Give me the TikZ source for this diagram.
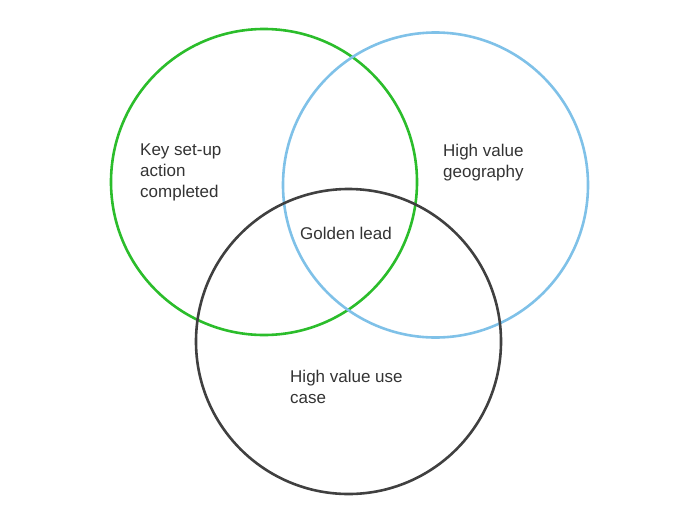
\documentclass[tikz,border=0pt]{standalone}
\usepackage{fontspec}
\setmainfont{Liberation Sans}
\definecolor{cgreen}{HTML}{2BBD2B}
\definecolor{cblue}{HTML}{7FC1E8}
\definecolor{cdark}{HTML}{404040}
\definecolor{ctext}{HTML}{333333}
\begin{document}
\begin{tikzpicture}[x=1pt,y=-1pt,
  ring/.style={line width=2.6pt},
  lbl/.style={text=ctext,font=\fontsize{17}{21}\selectfont,align=left,anchor=north west,inner sep=0pt}]
\useasboundingbox (0,0) rectangle (700,525);
\draw[ring,cgreen] (264,182) circle (153);
\draw[ring,cblue] (435.5,185) circle (152.5);
\draw[ring,cdark] (348.5,341.5) circle (152.5);
\node[lbl] (a) at (140,144) {Key set-up\\action\\completed};
\node[lbl] (b) at (443,144) {High value\\geography};
\node[lbl] (c) at (300,227) {Golden lead};
\node[lbl] (d) at (290,370) {High value use\\case};
\end{tikzpicture}
\end{document}
